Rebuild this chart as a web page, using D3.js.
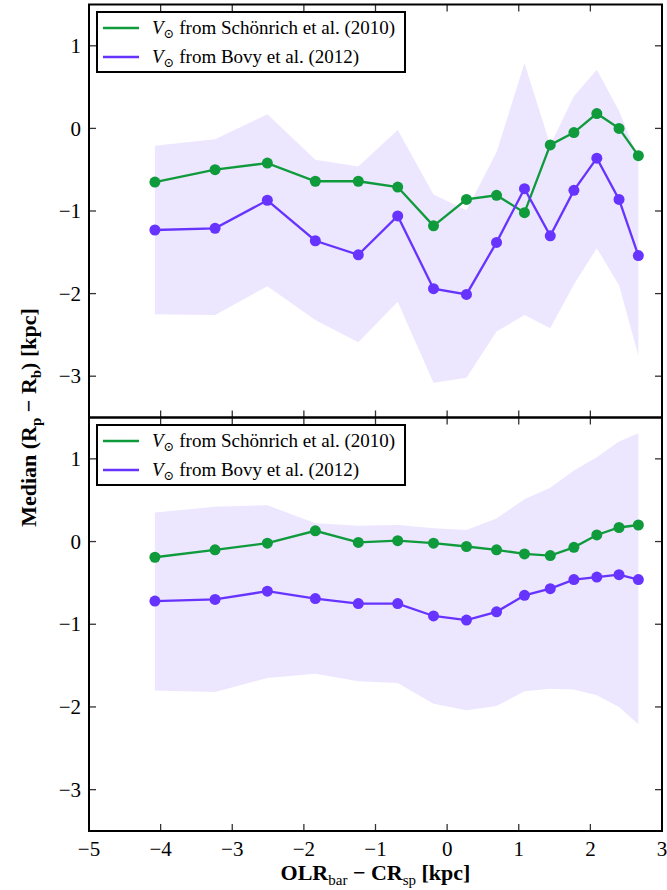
<!DOCTYPE html>
<html lang="en">
<head>
<meta charset="UTF-8">
<title>Median (Rp - Rb) vs OLR - CR</title>
<script src="https://d3js.org/d3.v7.min.js"></script>
<style>
    body { margin: 0; background: #ffffff; }
    svg text { font-family: "Liberation Serif", "Times New Roman", "DejaVu Serif", serif; }
    .tick-label { font-size: 21px; fill: #000; }
    .axis-title { font-size: 22px; font-weight: bold; fill: #000; }
    .legend-text { font-size: 19px; fill: #000; }
</style>
</head>
<body>
<div id="chart"></div>
<script>
    // x positions of the bins (OLR_bar - CR_sp, kpc)
    const xVals = [-4.08, -3.24, -2.51, -1.84, -1.24, -0.69, -0.19, 0.27, 0.69, 1.08, 1.44, 1.77, 2.09, 2.40, 2.67];

    // top panel
    const topGreen  = [-0.65, -0.50, -0.42, -0.64, -0.64, -0.71, -1.18, -0.86, -0.81, -1.02, -0.20, -0.05, 0.18, 0.00, -0.33];
    const topPurple = [-1.23, -1.21, -0.87, -1.36, -1.53, -1.06, -1.94, -2.01, -1.38, -0.73, -1.30, -0.75, -0.36, -0.86, -1.54];
    const topBandHi = [-0.21, -0.13, 0.17, -0.38, -0.46, -0.02, -0.80, -0.99, -0.29, 0.79, -0.20, 0.39, 0.71, 0.21, -0.36];
    const topBandLo = [-2.25, -2.26, -1.91, -2.32, -2.59, -2.10, -3.08, -3.02, -2.46, -2.26, -2.42, -1.89, -1.45, -1.90, -2.75];

    // bottom panel
    const botGreen  = [-0.19, -0.10, -0.02, 0.13, -0.01, 0.01, -0.02, -0.06, -0.10, -0.15, -0.17, -0.07, 0.08, 0.17, 0.20];
    const botPurple = [-0.72, -0.70, -0.60, -0.69, -0.75, -0.75, -0.90, -0.95, -0.85, -0.65, -0.57, -0.46, -0.43, -0.40, -0.46];
    const botBandHi = [0.35, 0.42, 0.44, 0.22, 0.19, 0.20, 0.16, 0.14, 0.28, 0.51, 0.65, 0.86, 1.02, 1.21, 1.31];
    const botBandLo = [-1.80, -1.82, -1.65, -1.60, -1.69, -1.71, -1.96, -2.04, -1.99, -1.81, -1.78, -1.79, -1.86, -2.00, -2.21];

    const xTicks = [-5, -4, -3, -2, -1, 0, 1, 2, 3];
    const yTicks = [1, 0, -1, -2, -3];
    const legendLabels = ["from Schönrich et al. (2010)", "from Bovy et al. (2012)"];

    const green = "#0f9a3c";
    const purple = "#6633ff";
    const serif = "'Liberation Serif', 'Times New Roman', 'DejaVu Serif', serif";

    const width = 667, height = 890;
    const left = 89, right = 662;
    const panels = [
        { top: 4.5, bottom: 417.5, green: topGreen, purple: topPurple, hi: topBandHi, lo: topBandLo, xLabels: false },
        { top: 417.5, bottom: 831, green: botGreen, purple: botPurple, hi: botBandHi, lo: botBandLo, xLabels: true }
    ];

    const svg = d3.select("#chart").append("svg")
        .attr("width", width)
        .attr("height", height)
        .attr("font-family", serif);

    const x = d3.scaleLinear().domain([-5, 3]).range([left, right]);

    function fmt(v) {
        return v < 0 ? "\u2212" + Math.abs(v) : String(v);
    }

    panels.forEach(function(p) {
        const y = d3.scaleLinear().domain([-3.5, 1.5]).range([p.bottom, p.top]);
        const g = svg.append("g");

        // shaded spread band
        const area = d3.area()
            .x(function(d, i) { return x(xVals[i]); })
            .y0(function(d, i) { return y(p.lo[i]); })
            .y1(function(d, i) { return y(p.hi[i]); });
        g.append("path")
            .datum(xVals)
            .attr("d", area)
            .attr("fill", purple)
            .attr("fill-opacity", 0.12);

        const line = d3.line()
            .x(function(d, i) { return x(xVals[i]); })
            .y(function(d) { return y(d); });

        [[p.green, green], [p.purple, purple]].forEach(function(s) {
            g.append("path")
                .datum(s[0])
                .attr("d", line)
                .attr("fill", "none")
                .attr("stroke", s[1])
                .attr("stroke-width", 2.3);
            g.selectAll(null)
                .data(s[0])
                .enter()
                .append("circle")
                .attr("cx", function(d, i) { return x(xVals[i]); })
                .attr("cy", function(d) { return y(d); })
                .attr("r", 5.5)
                .attr("fill", s[1]);
        });

        // inward ticks on all four sides
        const tickLen = 7;
        const ticks = g.append("g").attr("stroke", "#333").attr("stroke-width", 1.3);
        xTicks.forEach(function(t) {
            ticks.append("line").attr("x1", x(t)).attr("x2", x(t)).attr("y1", p.bottom).attr("y2", p.bottom - tickLen);
            ticks.append("line").attr("x1", x(t)).attr("x2", x(t)).attr("y1", p.top).attr("y2", p.top + tickLen);
        });
        yTicks.forEach(function(t) {
            ticks.append("line").attr("x1", left).attr("x2", left + tickLen).attr("y1", y(t)).attr("y2", y(t));
            ticks.append("line").attr("x1", right).attr("x2", right - tickLen).attr("y1", y(t)).attr("y2", y(t));
            g.append("text")
                .attr("class", "tick-label")
                .attr("x", left - 8)
                .attr("y", y(t))
                .attr("dy", "0.34em")
                .attr("text-anchor", "end")
                .text(fmt(t));
        });

        if (p.xLabels) {
            xTicks.forEach(function(t) {
                g.append("text")
                    .attr("class", "tick-label")
                    .attr("x", x(t))
                    .attr("y", p.bottom + 25)
                    .attr("text-anchor", "middle")
                    .text(fmt(t));
            });
        }

        // frame
        g.append("rect")
            .attr("x", left)
            .attr("y", p.top)
            .attr("width", right - left)
            .attr("height", p.bottom - p.top)
            .attr("fill", "none")
            .attr("stroke", "#000")
            .attr("stroke-width", 2);

        // legend
        const lx = 97, ly = p.top + 7.5;
        const leg = g.append("g").attr("transform", "translate(" + lx + "," + ly + ")");
        leg.append("rect")
            .attr("width", 308)
            .attr("height", 60)
            .attr("fill", "#fff")
            .attr("stroke", "#000")
            .attr("stroke-width", 2);
        [green, purple].forEach(function(c, i) {
            const ey = 16 + i * 29;
            leg.append("line")
                .attr("x1", 6).attr("x2", 42)
                .attr("y1", ey).attr("y2", ey)
                .attr("stroke", c)
                .attr("stroke-width", 2.3);
            const t = leg.append("text")
                .attr("class", "legend-text")
                .attr("x", 55)
                .attr("y", ey + 6);
            t.append("tspan").attr("font-style", "italic").text("V");
            t.append("tspan").attr("font-size", "13px").attr("dy", 4).text("\u2299");
            t.append("tspan").attr("dy", -4).text(" " + legendLabels[i]);
        });
    });

    // y axis title
    const yt = svg.append("text")
        .attr("class", "axis-title")
        .attr("transform", "translate(36," + 417.5 + ") rotate(-90)")
        .attr("text-anchor", "middle");
    yt.append("tspan").text("Median (R");
    yt.append("tspan").attr("font-size", "15px").attr("dy", 5).text("p");
    yt.append("tspan").attr("dy", -5).text(" \u2212 R");
    yt.append("tspan").attr("font-size", "15px").attr("dy", 5).text("b");
    yt.append("tspan").attr("dy", -5).text(") [kpc]");

    // x axis title
    const xt = svg.append("text")
        .attr("class", "axis-title")
        .attr("x", (left + right) / 2)
        .attr("y", 880)
        .attr("text-anchor", "middle");
    xt.append("tspan").text("OLR");
    xt.append("tspan").attr("font-size", "15px").attr("font-weight", "normal").attr("dy", 5).text("bar");
    xt.append("tspan").attr("dy", -5).text(" \u2212 CR");
    xt.append("tspan").attr("font-size", "15px").attr("font-weight", "normal").attr("dy", 5).text("sp");
    xt.append("tspan").attr("dy", -5).text(" [kpc]");
</script>
</body>
</html>
